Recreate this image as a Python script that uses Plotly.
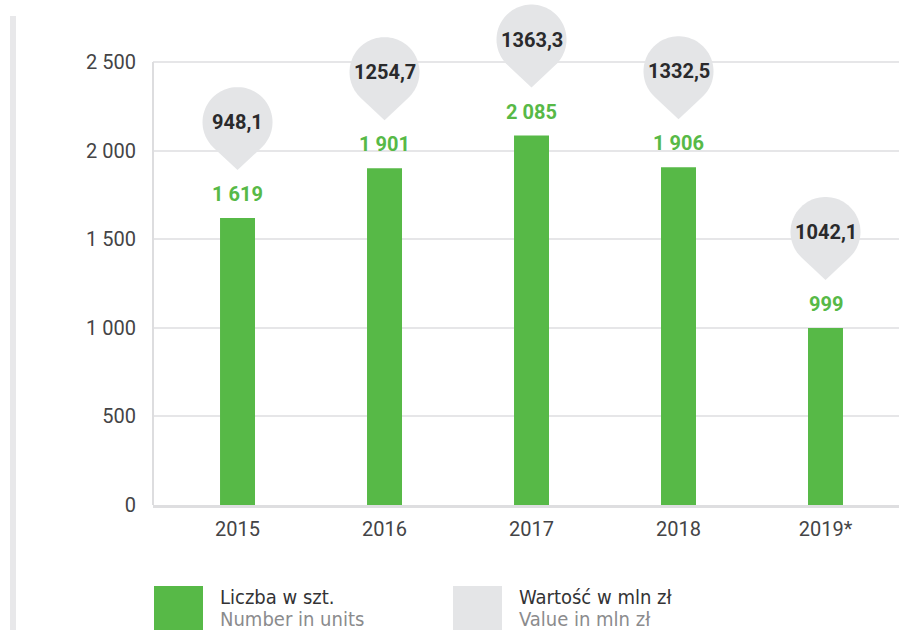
import numpy as np
import plotly.graph_objects as go

# Data: housing units delivered and their value
years = ["2015", "2016", "2017", "2018", "2019*"]
units = [1619, 1901, 2085, 1906, 999]
value_mln = [948.1, 1254.7, 1363.3, 1332.5, 1042.1]
y_ticks = [0, 500, 1000, 1500, 2000, 2500]

GREEN = "#57b947"
BUBBLE = "#e4e5e7"
DARK = "#2a2a2c"
TICK = "#444446"

W, H = 899, 630
ML, MR, MT, MB = 153, 0, 0, 125
PW, PH = W - ML - MR, H - MT - MB
Y_TOP_PX = 62  # pixel row of the top gridline


def fmt_units(v):
    return f"{v:,}".replace(",", " ")


def fmt_value(v):
    return f"{v:.1f}".replace(".", ",")


def px_x(px):
    return (px - ML) / PW


def px_y(py):
    return (H - MB - py) / PH


# extend the value axis above the top gridline so the bubbles have room
y_max = y_ticks[-1] * PH / (H - MB - Y_TOP_PX)

# pin-shaped bubble in pixels, relative to the top of each bar
R, CY, TIP = 35.0, 96.0, 48.0
theta = np.arccos(R / (CY - TIP))
phi = np.linspace(-np.pi / 2 + theta, 3 * np.pi / 2 - theta, 72)
pts = [(0.0, TIP)] + [(R * np.cos(a), CY + R * np.sin(a)) for a in phi]
pin_path = "M " + " L ".join(f"{x:.2f},{y:.2f}" for x, y in pts) + " Z"

fig = go.Figure()
fig.add_trace(go.Bar(
    x=years, y=units, marker=dict(color=GREEN, line=dict(width=0)),
    width=0.238, hoverinfo="skip", showlegend=False,
))

shapes = []
annotations = []
# category positions are given by index so numeric-looking names stay categories
for i, (u, v) in enumerate(zip(units, value_mln)):
    shapes.append(dict(
        type="path", xref="x", yref="y", xsizemode="pixel", ysizemode="pixel",
        xanchor=i, yanchor=u, path=pin_path,
        fillcolor=BUBBLE, line=dict(width=0), layer="above",
    ))
    annotations.append(dict(
        x=i, y=u, xref="x", yref="y", text=fmt_units(u), showarrow=False,
        yshift=24, font=dict(family="Roboto, sans-serif", size=20, color=GREEN, weight="bold"),
    ))
    annotations.append(dict(
        x=i, y=u, xref="x", yref="y", text=fmt_value(v), showarrow=False,
        yshift=CY, font=dict(family="Roboto, sans-serif", size=20, color=DARK, weight="bold"),
    ))

# left spine running only up to the top gridline
shapes.append(dict(type="line", xref="paper", yref="y", x0=0, x1=0, y0=0, y1=y_ticks[-1],
                   line=dict(color="#dddddf", width=2), layer="above"))
# grey stripe along the left edge of the page
shapes.append(dict(type="line", xref="paper", yref="paper", x0=px_x(13), x1=px_x(13),
                   y0=px_y(16), y1=px_y(H), line=dict(color="#e8e8ea", width=6)))

# legend
legend_font = "Liberation Sans Narrow, DejaVu Sans Condensed, sans-serif"
legend_items = [
    (154, GREEN, "Liczba w szt.", "Number in units"),
    (453, BUBBLE, "Wartość w mln zł", "Value in mln zł"),
]
for x0, col, pl, en in legend_items:
    shapes.append(dict(type="rect", xref="paper", yref="paper",
                       x0=px_x(x0), x1=px_x(x0 + 49), y0=px_y(586), y1=px_y(H + 2),
                       fillcolor=col, line=dict(width=0)))
    annotations.append(dict(x=px_x(x0 + 64), y=px_y(597), xref="paper", yref="paper",
                            text=pl, showarrow=False, xanchor="left", yanchor="middle",
                            font=dict(family=legend_font, size=20, color="#333335")))
    annotations.append(dict(x=px_x(x0 + 64), y=px_y(619), xref="paper", yref="paper",
                            text=en, showarrow=False, xanchor="left", yanchor="middle",
                            font=dict(family=legend_font, size=20, color="#8b8b8d")))

fig.update_layout(
    width=W, height=H,
    margin=dict(l=ML, r=MR, t=MT, b=MB, pad=0),
    plot_bgcolor="white", paper_bgcolor="white",
    showlegend=False,
    shapes=shapes, annotations=annotations,
    xaxis=dict(
        type="category", range=[-0.575, 4.5],
        showgrid=False, zeroline=False,
        showline=True, linecolor="#dedee0", linewidth=3,
        ticks="", ticklabelstandoff=4,
        tickfont=dict(family="Roboto, sans-serif", size=20, color=TICK),
    ),
    yaxis=dict(
        range=[0, y_max], tickvals=y_ticks, ticktext=[fmt_units(t) for t in y_ticks],
        showgrid=True, gridcolor="#e6e6e8", gridwidth=1.5,
        zeroline=False, showline=False, ticks="", ticklabelstandoff=16,
        tickfont=dict(family="Roboto, sans-serif", size=20, color=TICK),
    ),
)

fig.write_html("out.html")
